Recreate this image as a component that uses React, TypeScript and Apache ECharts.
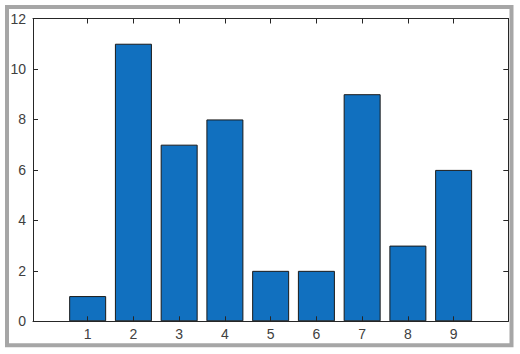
import React, { useEffect, useRef } from "react";
import * as echarts from "echarts";

const categories = [1, 2, 3, 4, 5, 6, 7, 8, 9];
const values = [1, 11, 7, 8, 2, 2, 9, 3, 6];
const yTicks = [0, 2, 4, 6, 8, 10, 12];

export default function App() {
  const ref = useRef<HTMLDivElement>(null);
  useEffect(() => {
    document.body.style.margin = "0";
    const chart = echarts.init(ref.current!, null, { renderer: "svg" });
    const axisColor = "#262626";
    const labelColor = "#404040";
    const font = "Liberation Sans";
    chart.setOption({
      animation: false,
      backgroundColor: "#ffffff",
      graphic: [
        {
          type: "rect",
          shape: { x: 7, y: 7, width: 504.5, height: 338.3 },
          style: { fill: "none", stroke: "#a6a6a6", lineWidth: 4 },
          z: 10,
        },
      ],
      grid: { left: 33, right: 11.7, top: 18.5, bottom: 32.7, containLabel: false },
      xAxis: [
        {
          type: "value",
          min: -0.195,
          max: 10.195,
          position: "bottom",
          z: 5,
          splitLine: { show: false },
          axisLine: { show: true, lineStyle: { color: axisColor, width: 1 } },
          axisTick: { show: true, inside: true, length: 5, customValues: categories, lineStyle: { color: axisColor } },
          axisLabel: { show: true, customValues: categories, color: labelColor, fontSize: 14, fontFamily: font, margin: 6 },
        },
        {
          type: "value",
          min: -0.195,
          max: 10.195,
          position: "top",
          z: 5,
          splitLine: { show: false },
          axisLine: { show: true, onZero: false, lineStyle: { color: axisColor, width: 1 } },
          axisTick: { show: true, inside: true, length: 5, customValues: categories, lineStyle: { color: axisColor } },
          axisLabel: { show: false },
        },
      ],
      yAxis: [
        {
          type: "value",
          min: 0,
          max: 12,
          interval: 2,
          position: "left",
          z: 5,
          splitLine: { show: false },
          axisLine: { show: true, onZero: false, lineStyle: { color: axisColor, width: 1 } },
          axisTick: { show: true, inside: true, length: 5, customValues: yTicks, lineStyle: { color: axisColor } },
          axisLabel: { show: true, customValues: yTicks, color: labelColor, fontSize: 14, fontFamily: font, margin: 7 },
        },
        {
          type: "value",
          min: 0,
          max: 12,
          interval: 2,
          position: "right",
          z: 5,
          splitLine: { show: false },
          axisLine: { show: true, onZero: false, lineStyle: { color: axisColor, width: 1 } },
          axisTick: { show: true, inside: true, length: 5, lineStyle: { color: axisColor } },
          axisLabel: { show: false },
        },
      ],
      series: [
        {
          type: "bar",
          xAxisIndex: 0,
          yAxisIndex: 0,
          barWidth: 37,
          data: categories.map((c, i) => [c, values[i]]),
          itemStyle: { color: "#1170bf", borderColor: "#1a1a1a", borderWidth: 1 },
          z: 2,
        },
      ],
    });
    return () => chart.dispose();
  }, []);
  return <div ref={ref} style={{ width: 520, height: 354 }} />;
}
